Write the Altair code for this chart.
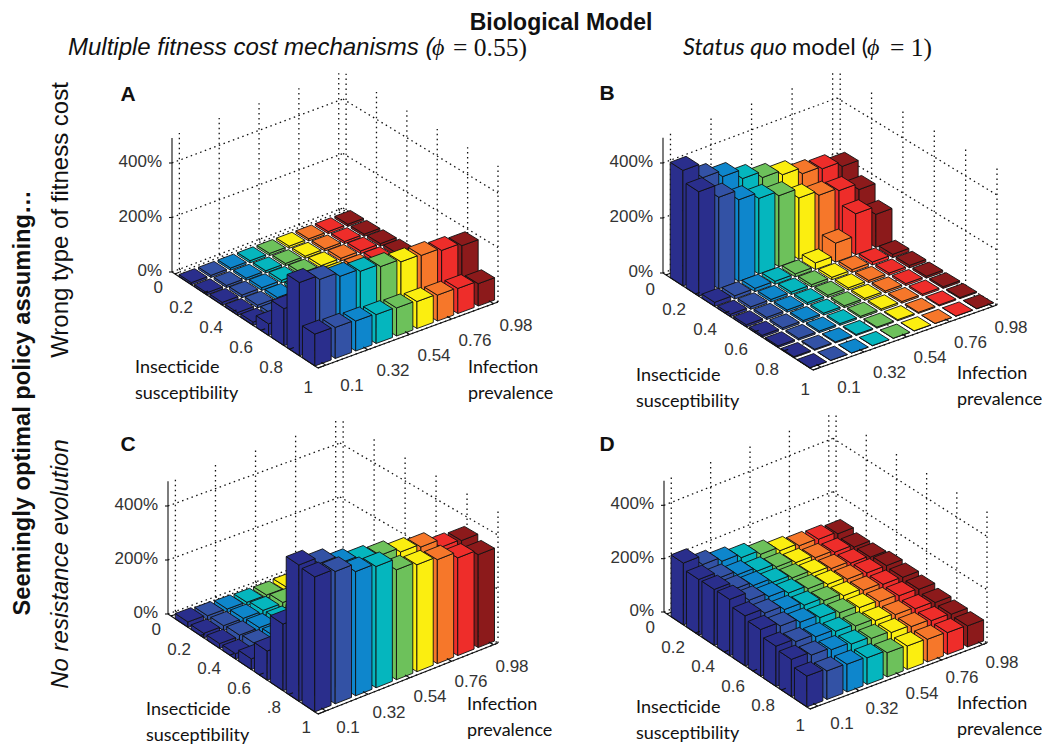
import altair as alt

PREVALENCE = ["0.1", "0.32", "0.54", "0.76", "0.98"]
SUSCEPT = ["0", "0.2", "0.4", "0.6", "0.8", "1"]
SUSCEPT_C = ["0", "0.2", "0.4", "0.6", ".8", "1"]
Z_TICKS = [0, 200, 400]
COLORS = ["#2A2E8C", "#3352A5", "#0E86CC", "#05B6BE", "#6DC15B", "#FBEE10", "#F6772A", "#EE2D2A", "#8C1A1B"]

# percent gain, rows = insecticide susceptibility (back to front), columns = infection prevalence
A = [
    [8, 8, 8, 8, 8, 8, 8, 8, 8],
    [8, 8, 8, 8, 8, 8, 8, 8, 8],
    [10, 10, 10, 10, 10, 10, 10, 10, 10],
    [10, 10, 11, 11, 11, 11, 11, 11, 12],
    [12, 12, 12, 12, 12, 12, 12, 12, 12],
    [43, 40, 38, 36, 34, 32, 30, 30, 28],
    [136, 130, 125, 120, 115, 110, 105, 100, 98],
    [269, 253, 237, 228, 218, 208, 204, 195, 185],
    [117, 114, 110, 106, 103, 99, 95, 92, 82],
]
B = [
    [420, 367, 344, 310, 287, 270, 247, 238, 220],
    [380, 333, 297, 275, 258, 223, 206, 196, 173],
    [15, 12, 12, 11, 11, 24, 69, 149, 120],
    [9, 9, 9, 9, 9, 9, 10, 11, 12],
    [8, 8, 8, 8, 8, 8, 8, 8, 9],
    [7, 7, 7, 7, 7, 7, 7, 7, 7],
    [6, 6, 6, 6, 6, 6, 6, 6, 6],
    [4, 4, 4, 4, 4, 4, 4, 4, 4],
    [1, 1, 1, 1, 1, 1, 1, 1, 1],
]
C = [
    [20, 16, 14, 12, 12, 15, 15, 15, 15],
    [17, 18, 18, 20, 22, 20, 20, 20, 20],
    [18, 22, 22, 22, 22, 22, 22, 22, 22],
    [20, 28, 26, 26, 26, 26, 26, 26, 26],
    [40, 38, 36, 34, 32, 30, 30, 30, 30],
    [108, 100, 95, 90, 85, 80, 78, 76, 74],
    [247, 235, 225, 215, 205, 195, 190, 185, 180],
    [505, 481, 452, 435, 423, 406, 395, 365, 360],
    [500, 490, 460, 449, 407, 396, 385, 362, 344],
]
D = [
    [232, 198, 182, 167, 151, 136, 126, 122, 114],
    [209, 185, 170, 155, 142, 130, 120, 112, 103],
    [210, 182, 168, 152, 140, 128, 118, 110, 104],
    [211, 180, 165, 150, 138, 126, 117, 112, 111],
    [188, 170, 155, 143, 132, 122, 114, 108, 106],
    [175, 160, 146, 135, 125, 116, 110, 104, 100],
    [151, 140, 130, 122, 114, 106, 100, 94, 89],
    [140, 128, 120, 113, 106, 100, 94, 88, 84],
    [116, 107, 104, 100, 91, 88, 85, 82, 79],
]

# layout of each panel's oblique box, in page pixels
PANELS = [
    dict(name="A", vals=A, L=(172, 272), K=(343, 208), R=(498, 302), F=(318, 368), zs=0.2725,
         letter=(128, 95), sus=SUSCEPT, s0=(163, 288), sd=(30, 20), p0=(352, 386), pd=(41, -15),
         ins=(135, 368), inf=(468, 368)),
    dict(name="B", vals=B, L=(663, 273), K=(837, 208), R=(997, 305), F=(813, 370), zs=0.275,
         letter=(607, 94), sus=SUSCEPT, s0=(655, 290), sd=(31, 20), p0=(849, 388), pd=(40.5, -15),
         ins=(636, 376), inf=(957, 374)),
    dict(name="C", vals=C, L=(168, 614), K=(340, 551), R=(498, 643), F=(318, 714), zs=0.27,
         letter=(128, 445), sus=SUSCEPT_C, s0=(161, 630), sd=(30, 19.6), p0=(348, 728), pd=(41, -15.3),
         ins=(146, 710), inf=(467, 705)),
    dict(name="D", vals=D, L=(664, 612), K=(833, 545), R=(987, 643), F=(810, 709), zs=0.2667,
         letter=(607, 445), sus=SUSCEPT, s0=(655, 628), sd=(30, 19.5), p0=(842, 724), pd=(40, -15.2),
         ins=(636, 708), inf=(957, 704)),
]

S0, SD, HS = 0.045, 0.1136, 0.0454
T0, TD, HT = 0.0909, 0.1057, 0.0423
S_TICKS = [0.043, 0.276, 0.509, 0.742, 0.975]
T_TICKS = [0.02, 0.216, 0.412, 0.608, 0.804, 1.0]


def project(p, s, t, z=0):
    x = (1 - s) * (1 - t) * p["L"][0] + s * (1 - t) * p["K"][0] + s * t * p["R"][0] + (1 - s) * t * p["F"][0]
    y = (1 - s) * (1 - t) * p["L"][1] + s * (1 - t) * p["K"][1] + s * t * p["R"][1] + (1 - s) * t * p["F"][1]
    return x, y - z * p["zs"]


features, solid, dotted, ticks = [], [], [], []


def seg(store, a, b):
    store.append({"x": a[0], "y": a[1], "x2": b[0], "y2": b[1]})


def poly(points, color):
    ring = [[x - 8, y - 8] for x, y in points]
    ring.append(ring[0])
    features.append({"type": "Feature", "properties": {"c": color},
                     "geometry": {"type": "Polygon", "coordinates": [ring]}})


for p in PANELS:
    for z in [0, 200, 400]:
        seg(dotted, project(p, 0, 0, z), project(p, 1, 0, z))
        seg(dotted, project(p, 1, 0, z), project(p, 1, 1, z))
    for s in S_TICKS:
        seg(dotted, project(p, s, 0, 0), project(p, s, 0, 500))
        seg(dotted, project(p, s, 0, 0), project(p, s, 1, 0))
    for t in T_TICKS:
        seg(dotted, project(p, 1, t, 0), project(p, 1, t, 500))
        seg(dotted, project(p, 0, t, 0), project(p, 1, t, 0))
    seg(solid, project(p, 0, 0, 0), project(p, 0, 0, 492))
    seg(solid, project(p, 0, 0, 0), project(p, 0, 1, 0))
    seg(solid, project(p, 0, 1, 0), project(p, 1, 1, 0))
    for z in Z_TICKS:
        a = project(p, 0, 0, z)
        seg(solid, a, (a[0] - 3, a[1]))
    for t in T_TICKS:
        seg(solid, project(p, 0, t, 0), project(p, 0.025, t, 0))
    for s in S_TICKS:
        seg(solid, project(p, s, 1, 0), project(p, s, 0.97, 0))

    for r in range(9):
        for c in range(8, -1, -1):
            z = p["vals"][r][c]
            s, t = S0 + SD * c, T0 + TD * r
            col = COLORS[c]
            poly([project(p, s - HS, t - HT, 0), project(p, s - HS, t + HT, 0),
                  project(p, s - HS, t + HT, z), project(p, s - HS, t - HT, z)], col)
            poly([project(p, s - HS, t + HT, 0), project(p, s + HS, t + HT, 0),
                  project(p, s + HS, t + HT, z), project(p, s - HS, t + HT, z)], col)
            poly([project(p, s - HS, t - HT, z), project(p, s - HS, t + HT, z),
                  project(p, s + HS, t + HT, z), project(p, s + HS, t - HT, z)], col)

W, H = 1034, 738
xs = alt.Scale(domain=[8, 8 + W], nice=False, zero=False)
ys = alt.Scale(domain=[8 + H, 8], nice=False, zero=False)


def rules(rows, **kw):
    return alt.Chart(alt.Data(values=rows)).mark_rule(**kw).encode(
        x=alt.X("x:Q", scale=xs, axis=None), y=alt.Y("y:Q", scale=ys, axis=None),
        x2="x2:Q", y2="y2:Q")


def texts(rows, **kw):
    return alt.Chart(alt.Data(values=rows)).mark_text(**kw).encode(
        x=alt.X("x:Q", scale=xs, axis=None), y=alt.Y("y:Q", scale=ys, axis=None),
        text="t:N")


bars = alt.Chart(alt.Data(values=features)).mark_geoshape(stroke="#111111", strokeWidth=0.9).encode(
    fill=alt.Fill("properties.c:N", scale=None)
).project(type="identity", scale=1, translate=[0, 0])

ZFONT = "Liberation Sans"
layers = [rules(dotted, color="#111111", strokeWidth=1.3, strokeDash=[1.5, 3.5]), bars,
          rules(solid, color="#111111", strokeWidth=1.1)]

z_rows, sus_rows, prev_rows, letter_rows, lab_rows = [], [], [], [], []
for p in PANELS:
    for z in Z_TICKS:
        a = project(p, 0, 0, z)
        z_rows.append({"x": a[0] - 10, "y": a[1] - 1, "t": f"{z}%"})
    for k, lab in enumerate(p["sus"]):
        sus_rows.append({"x": p["s0"][0] + k * p["sd"][0], "y": p["s0"][1] + k * p["sd"][1], "t": lab})
    for k, lab in enumerate(PREVALENCE):
        prev_rows.append({"x": p["p0"][0] + k * p["pd"][0], "y": p["p0"][1] + k * p["pd"][1], "t": lab})
    letter_rows.append({"x": p["letter"][0], "y": p["letter"][1], "t": p["name"]})
    lab_rows += [
        {"x": p["ins"][0], "y": p["ins"][1], "t": "Insecticide"},
        {"x": p["ins"][0], "y": p["ins"][1] + 25.5, "t": "susceptibility"},
        {"x": p["inf"][0], "y": p["inf"][1], "t": "Infection"},
        {"x": p["inf"][0], "y": p["inf"][1] + 25.5, "t": "prevalence"},
    ]

layers += [
    texts(z_rows, align="right", baseline="middle", font=ZFONT, fontSize=17, color="#333333"),
    texts(sus_rows, align="right", baseline="middle", font=ZFONT, fontSize=17, color="#333333"),
    texts(prev_rows, align="center", baseline="middle", font=ZFONT, fontSize=17, color="#333333"),
    texts(letter_rows, align="center", baseline="middle", font=ZFONT, fontSize=21, fontWeight="bold", color="#111111"),
    texts(lab_rows, align="left", baseline="middle", font="Lato", fontSize=18, color="#111111"),
    texts([{"x": 561, "y": 23, "t": "Biological Model"}], align="center", baseline="middle",
          font=ZFONT, fontSize=23, fontWeight="bold", color="#111111"),
    texts([{"x": 68, "y": 48, "t": "Multiple fitness cost mechanisms ("}], align="left", baseline="middle",
          font=ZFONT, fontSize=24, fontStyle="italic", color="#111111"),
    texts([{"x": 432, "y": 48, "t": "ϕ"}, {"x": 867, "y": 48, "t": "ϕ"}], align="left", baseline="middle",
          font="Liberation Serif", fontSize=24, fontStyle="italic", color="#111111"),
    texts([{"x": 453, "y": 48, "t": "= 0.55)"}, {"x": 890, "y": 48, "t": "= 1)"}], align="left", baseline="middle",
          font="Liberation Serif", fontSize=25.5, color="#111111"),
    texts([{"x": 683, "y": 48, "t": "Status quo"}], align="left", baseline="middle",
          font="Lato", fontSize=23.5, fontStyle="italic", color="#111111"),
    texts([{"x": 792, "y": 48, "t": "model ("}], align="left", baseline="middle",
          font="Lato", fontSize=23.5, color="#111111"),
    texts([{"x": 23, "y": 403, "t": "Seemingly optimal policy assuming…"}], align="center", baseline="middle",
          font=ZFONT, fontSize=23.7, fontWeight="bold", angle=270, color="#111111"),
    texts([{"x": 61, "y": 220, "t": "Wrong type of fitness cost"}], align="center", baseline="middle",
          font=ZFONT, fontSize=24, angle=270, color="#111111"),
    texts([{"x": 61, "y": 564, "t": "No resistance evolution"}], align="center", baseline="middle",
          font=ZFONT, fontSize=24, fontStyle="italic", angle=270, color="#111111"),
]

chart = alt.layer(*layers).properties(
    width=W, height=H, padding=0, background="white", autosize=alt.AutoSizeParams(type="none")
).configure_view(stroke=None)
chart.save("out.html", embed_options={"renderer": "svg", "actions": False})
